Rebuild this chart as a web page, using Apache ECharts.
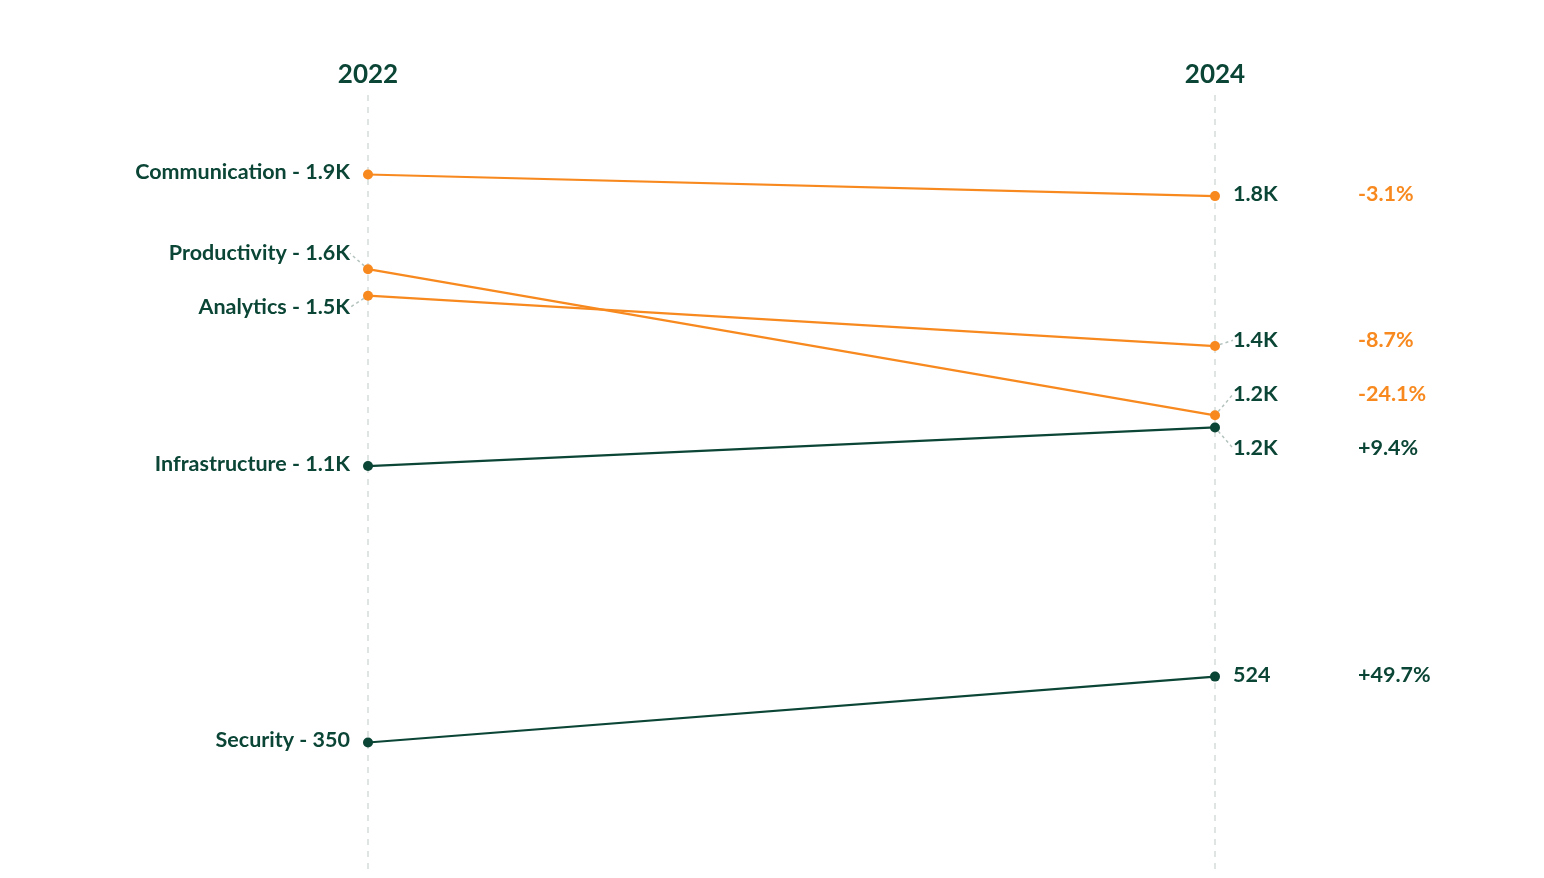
<!DOCTYPE html>
<html>
<head>
<meta charset="utf-8">
<script src="https://cdn.jsdelivr.net/npm/echarts@6/dist/echarts.min.js"></script>
<style>
  html, body { margin: 0; padding: 0; background: #fff; }
  #chart { width: 1544px; height: 878px; }
</style>
</head>
<body>
<div id="chart"></div>
<script>
// data
const years = ['2022', '2024'];
const categories = ['Communication', 'Productivity', 'Analytics', 'Infrastructure', 'Security'];
const values2022 = [1850, 1600, 1530, 1080, 350];
const values2024 = [1793, 1214, 1397, 1182, 524];

const GREEN = '#0b4535';
const ORANGE = '#f7891f';
const FONT = 'Lato';
const LABEL_SIZE = 21.5;
const LABEL_GAP = 54;
const LABEL_LIFT = -2;

function fmt(v) {
  return v >= 1000 ? (Math.round(v / 100) / 10).toFixed(1) + 'K' : String(v);
}
function pct(a, b) {
  const p = (b - a) / a * 100;
  return (p >= 0 ? '+' : '') + p.toFixed(1) + '%';
}

// spread labels on one side so they keep a minimum vertical gap
function spread(ys, gap) {
  const items = ys.map((y, i) => ({ i, y })).sort((a, b) => a.y - b.y);
  let groups = items.map(it => ({ members: [it], center: it.y }));
  let merged = true;
  while (merged) {
    merged = false;
    for (let k = 0; k < groups.length - 1; k++) {
      const a = groups[k], b = groups[k + 1];
      const aBottom = a.center + (a.members.length - 1) * gap / 2;
      const bTop = b.center - (b.members.length - 1) * gap / 2;
      if (bTop - aBottom < gap) {
        const m = a.members.concat(b.members);
        const c = m.reduce((s, x) => s + x.y, 0) / m.length;
        groups.splice(k, 2, { members: m, center: c });
        merged = true;
        break;
      }
    }
  }
  const out = [];
  groups.forEach(g => g.members.forEach((m, j) => {
    out[m.i] = g.center + (j - (g.members.length - 1) / 2) * gap - m.y;
  }));
  return out;
}

function buildOption(offsets) {
  const series = categories.map((name, i) => {
    const a = values2022[i], b = values2024[i];
    const color = b < a ? ORANGE : GREEN;
    const off = offsets[i];
    return {
      name: name,
      type: 'line',
      symbol: 'circle',
      symbolSize: 10,
      lineStyle: { width: 2.2, color: color },
      itemStyle: { color: color },
      emphasis: { disabled: true },
      label: {
        show: true,
        distance: 13,
        fontFamily: FONT,
        fontSize: LABEL_SIZE,
        fontWeight: 'bold',
        color: GREEN
      },
      labelLine: {
        show: false,
        lineStyle: { color: '#b3c3bc', width: 1.5, type: [3, 3] }
      },
      labelLayout: function (p) {
        return { dy: offsets[p.seriesIndex][p.dataIndex] + LABEL_LIFT };
      },
      data: [
        {
          value: a,
          label: { position: 'left', formatter: name + ' - ' + fmt(a) },
          labelLine: { show: Math.abs(off[0]) > 1 }
        },
        {
          value: b,
          label: {
            position: 'right',
            formatter: '{v|' + fmt(b) + '}{p|' + pct(a, b) + '}',
            rich: {
              v: { width: 125, color: GREEN, fontFamily: FONT, fontSize: LABEL_SIZE, fontWeight: 'bold' },
              p: { color: color, fontFamily: FONT, fontSize: LABEL_SIZE, fontWeight: 'bold' }
            }
          },
          labelLine: { show: Math.abs(off[1]) > 1 }
        }
      ]
    };
  });

  return {
    animation: false,
    backgroundColor: '#fff',
    grid: { left: 368, right: 329, top: 95, bottom: 3 },
    xAxis: {
      type: 'category',
      data: years,
      position: 'top',
      boundaryGap: false,
      axisLine: { show: false },
      axisTick: { show: false },
      axisLabel: {
        margin: 7,
        fontFamily: FONT,
        fontSize: 26,
        fontWeight: 'bold',
        color: GREEN
      },
      splitLine: {
        show: true,
        lineStyle: { color: '#d5ddd9', width: 1.5, type: [6, 6] }
      }
    },
    yAxis: {
      type: 'value',
      min: 0,
      max: 2060,
      show: false,
      splitLine: { show: false }
    },
    series: series
  };
}

const chart = echarts.init(document.getElementById('chart'));
const zero = categories.map(() => [0, 0]);
chart.setOption(buildOption(zero));

// pixel positions of the points, then spread labels per side
const leftY = values2022.map(v => chart.convertToPixel({ yAxisIndex: 0 }, v));
const rightY = values2024.map(v => chart.convertToPixel({ yAxisIndex: 0 }, v));
const leftOff = spread(leftY, LABEL_GAP);
const rightOff = spread(rightY, LABEL_GAP);
const offsets = categories.map((_, i) => [leftOff[i], rightOff[i]]);
chart.setOption(buildOption(offsets), true);
</script>
</body>
</html>
